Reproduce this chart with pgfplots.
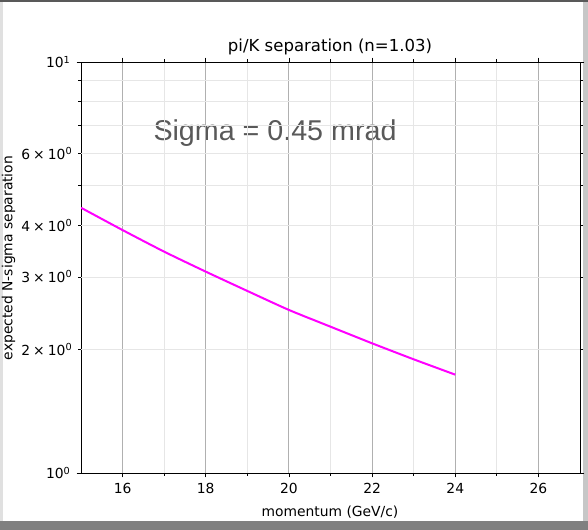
\documentclass[border=0pt]{standalone}
\usepackage{pgfplots}
\pgfplotsset{compat=1.18}
\usepackage{fontspec}
\setmainfont{DejaVu Sans}
\newfontfamily\arialfont{Liberation Sans}
\definecolor{majgrid}{HTML}{B0B0B0}
\definecolor{mingrid}{HTML}{E6E6E6}
\definecolor{sigmagray}{HTML}{595959}
\begin{document}
\begin{tikzpicture}
% frame
\useasboundingbox (0,0) rectangle (441pt,-397.5pt);
\fill[black!50] (0,0) rectangle (441pt,-397.5pt);
\fill[black!22] (0,0) rectangle (441pt,-391pt);
\fill[white] (2.25pt,-1.2pt) rectangle (437.25pt,-390.75pt);
\fill[black!12] (0,-1.2pt) rectangle (2.25pt,-390.75pt);
\fill[black!65] (0,0) rectangle (441pt,-1.2pt);
% annotation (below grid)
\node[anchor=base, text=sigmagray, font=\arialfont\fontsize{21.5}{24}\selectfont] at (206.25pt,-105.5pt) {Sigma = 0.45 mrad};
\begin{axis}[
  at={(60.75pt,-354.75pt)}, anchor=south west,
  width=374.25pt, height=308.25pt, scale only axis,
  xmin=15, xmax=27, ymin=1, ymax=10,
  ymode=log,
  axis line style={black, line width=0.6pt},
  tick align=outside,
  tick style={black, line width=0.6pt},
  major tick length=3.3pt, minor tick length=1.9pt,
  xtick={16,18,20,22,24,26},
  xticklabels={16,18,20,22,24,26},
  minor xtick={17,19,21,23,25},
  ytick={1,10},
  yticklabels={10\textsuperscript{0},10\textsuperscript{1}},
  extra y ticks={2,3,4,6},
  extra y tick labels={2\:×\:10\textsuperscript{0},3\:×\:10\textsuperscript{0},4\:×\:10\textsuperscript{0},6\:×\:10\textsuperscript{0}},
  extra y tick style={major tick length=1.9pt, grid=major, major grid style={mingrid, line width=0.6pt}},
  minor ytick={5,7,8,9},
  xmajorgrids, xminorgrids, yminorgrids,
  major grid style={majgrid, line width=0.7pt},
  minor grid style={mingrid, line width=0.6pt},
  ticklabel style={font=\fontsize{10.4}{12}\selectfont},
  xticklabel style={yshift=-1pt},
  yticklabel style={xshift=-1pt},
  clip=true,
]
\addplot[draw={rgb,255:red,255;green,0;blue,255}, line width=1.5pt, smooth, tension=0.4] coordinates {
(15,4.42) (16,3.90) (17,3.456) (18,3.09) (19,2.773) (20,2.493) (21,2.27) (22,2.068) (23,1.891) (24,1.735)
};
\end{axis}
\node[font=\fontsize{12.4}{14}\selectfont] at (247.5pt,-35.25pt) {pi/K separation (n=1.03)};
\node[font=\fontsize{10.4}{12}\selectfont] at (247.5pt,-384pt) {momentum (GeV/c)};
\node[font=\fontsize{10.4}{12}\selectfont, rotate=90] at (6.5pt,-193.5pt) {expected N-sigma separation};
\end{tikzpicture}
\end{document}
